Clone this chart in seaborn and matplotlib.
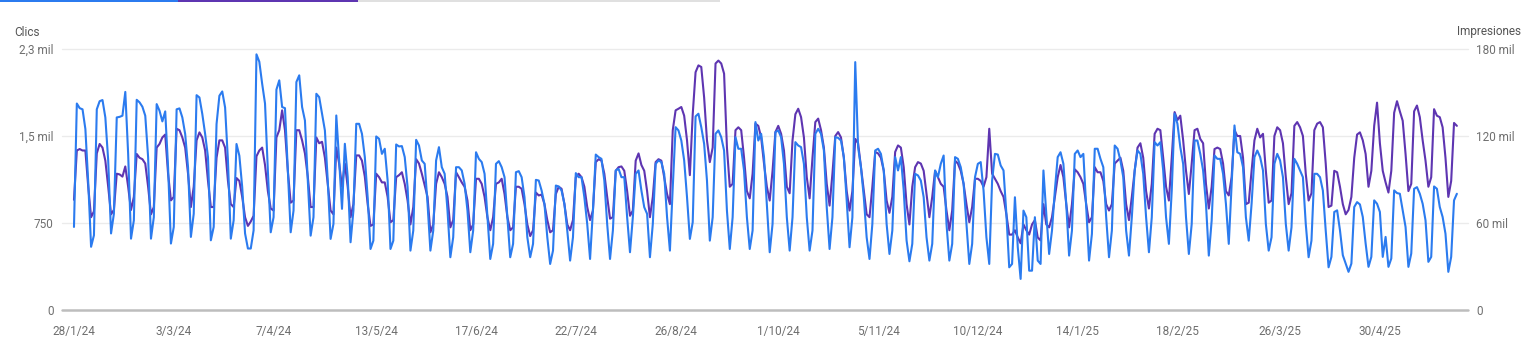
import pandas as pd
import matplotlib
matplotlib.use("Agg")
import matplotlib.pyplot as plt
import matplotlib.patches as mpatches
import seaborn as sns

# Clics diarios, una fila por semana (domingo a sábado) desde el 28/1/24
clics_semanas = [
    [716, 1780, 1740, 1730, 1560, 1100, 545],
    [644, 1730, 1800, 1810, 1660, 1290, 660],
    [830, 1660, 1665, 1675, 1880, 1345, 615],
    [773, 1812, 1790, 1752, 1675, 1317, 615],
    [800, 1775, 1718, 1626, 1712, 1231, 573],
    [716, 1730, 1738, 1660, 1517, 1231, 630],
    [830, 1852, 1832, 1690, 1517, 1317, 601],
    [716, 1603, 1847, 1884, 1746, 1288, 615],
    [773, 1431, 1330, 1060, 660, 530, 530],
    [687, 2204, 2140, 1950, 1780, 1200, 670],
    [800, 1900, 1980, 1750, 1740, 1200, 670],
    [857, 1965, 2023, 1750, 1634, 1116, 641],
    [800, 1864, 1835, 1692, 1548, 1116, 613],
    [742, 1677, 1289, 872, 1433, 1145, 584],
    [857, 1605, 1605, 1519, 1318, 972, 526],
    [598, 1496, 1476, 1346, 1390, 1116, 526],
    [598, 1427, 1410, 1413, 1318, 1059, 512],
    [685, 1467, 1418, 1289, 1260, 915, 512],
    [685, 1289, 1404, 1231, 1174, 857, 455],
    [627, 1231, 1231, 1203, 1088, 857, 498],
    [685, 1360, 1303, 1275, 1174, 800, 440],
    [570, 1260, 1283, 1231, 1145, 800, 455],
    [570, 1188, 1197, 1145, 972, 627, 455],
    [570, 1122, 1116, 1030, 915, 627, 397],
    [512, 1073, 1065, 1030, 915, 685, 426],
    [627, 1180, 1145, 1145, 972, 742, 440],
    [857, 1340, 1318, 1303, 1116, 742, 440],
    [685, 1203, 1217, 1145, 1145, 800, 498],
    [800, 1174, 1203, 1030, 886, 829, 455],
    [742, 1260, 1289, 1275, 1174, 800, 512],
    [1059, 1576, 1548, 1461, 1290, 972, 613],
    [757, 1669, 1692, 1576, 1433, 1116, 598],
    [800, 1519, 1548, 1490, 1375, 857, 526],
    [800, 1490, 1390, 1390, 1203, 800, 526],
    [685, 1620, 1461, 1519, 1318, 915, 498],
    [742, 1533, 1548, 1490, 1260, 800, 512],
    [800, 1447, 1418, 1404, 1260, 800, 512],
    [685, 1519, 1562, 1519, 1375, 886, 526],
    [800, 1490, 1484, 1461, 1318, 944, 541],
    [800, 2137, 1404, 1231, 972, 627, 440],
    [742, 1375, 1390, 1346, 1203, 742, 483],
    [685, 1318, 1203, 1318, 1030, 600, 420],
    [570, 1174, 1160, 1116, 972, 627, 426],
    [570, 1203, 1145, 1260, 1332, 742, 426],
    [570, 1318, 1303, 1231, 1088, 742, 397],
    [570, 1145, 1260, 1275, 1030, 627, 397],
    [1116, 1346, 1340, 1246, 1203, 829, 368],
    [397, 972, 541, 268, 857, 800, 339],
    [339, 800, 426, 397, 1203, 829, 483],
    [685, 1030, 1318, 1360, 1260, 915, 469],
    [685, 1346, 1375, 1318, 1346, 886, 426],
    [656, 1390, 1390, 1303, 1231, 800, 455],
    [685, 1418, 1390, 1289, 1145, 685, 469],
    [800, 1203, 1375, 1346, 1174, 800, 498],
    [800, 1447, 1418, 1447, 1203, 800, 570],
    [1030, 1692, 1605, 1404, 1260, 800, 483],
    [742, 1461, 1461, 1346, 1203, 915, 469],
    [771, 1332, 1303, 1303, 1174, 915, 570],
    [1088, 1591, 1360, 1346, 1231, 800, 598],
    [915, 1318, 1375, 1318, 1203, 742, 512],
    [627, 1260, 1346, 1289, 1145, 742, 512],
    [713, 1303, 1260, 1203, 1145, 742, 455],
    [598, 1174, 1174, 1145, 1030, 685, 368],
    [458, 845, 859, 687, 472, 400, 329],
    [400, 888, 930, 910, 802, 573, 372],
    [458, 945, 916, 845, 458, 630, 372],
    [444, 1031, 1008, 1002, 859, 716, 372],
    [487, 1045, 1059, 1002, 916, 773, 415],
    [458, 1065, 1045, 888, 802, 658, 329],
    [458, 945, 1002],
]

# Impresiones diarias en miles, mismas semanas
impresiones_semanas = [
    [76, 110, 111, 110, 110, 85, 64],
    [68, 108, 114.5, 112, 103, 85, 66],
    [69, 94, 93.5, 92, 99, 85, 69],
    [78, 107.6, 105, 104, 101, 85, 66],
    [71, 112, 114.5, 119, 121, 94, 75.6],
    [78, 125, 124, 119, 112, 94, 71],
    [85, 117, 122.5, 119, 110, 89, 71],
    [71, 105, 117, 117, 112, 89, 73],
    [71, 91, 89, 78, 64, 58, 61],
    [65, 106, 110, 112, 100, 82, 70],
    [68.6, 119, 124, 137.7, 124, 96, 74],
    [75.5, 124, 124, 117, 108, 92, 71],
    [71, 119, 115, 116, 105, 87, 68.6],
    [66, 112, 101, 85, 101, 85, 64],
    [73, 106.6, 106.6, 103, 92, 73, 58],
    [59, 94, 91.6, 88, 88, 78, 60.5],
    [62, 91.6, 93, 95, 87, 75.5, 59],
    [71, 104, 101, 94, 86, 78, 53.6],
    [59, 87, 95, 91.6, 87, 78, 57],
    [62, 95, 91.6, 88, 85, 75.5, 55],
    [59, 90.5, 90.5, 87, 78, 64, 55],
    [64, 87, 88, 90.5, 80, 64, 55],
    [57, 85, 85, 83.6, 73, 59, 51],
    [55, 81, 79, 79.6, 73, 62, 53.6],
    [55, 80, 85, 83.6, 73, 59, 55],
    [62, 91.6, 94, 91.6, 85, 71, 62],
    [68.6, 102, 104, 103, 94, 78, 63],
    [64, 96, 98.5, 99, 96, 82, 65],
    [68.6, 103, 108, 100, 96, 82, 64],
    [78, 102, 104, 103, 91.6, 80, 73],
    [124, 137.7, 138.8, 140, 134, 117, 93],
    [135, 164, 168.7, 167.6, 146.6, 117, 102],
    [112, 170, 172, 170, 163, 112, 85],
    [87, 124, 126, 124, 105, 82, 77],
    [94, 128.5, 127, 119, 101, 85, 75.5],
    [96, 122.7, 127, 121.5, 110, 85, 80.5],
    [117, 135, 138.8, 133, 119, 91.6, 77],
    [105, 129.6, 132, 124, 112, 87, 72],
    [94, 120, 122.7, 119, 105, 82, 68.6],
    [82, 118, 115, 98.5, 82, 66, 64],
    [85, 109, 108, 105, 96, 75.5, 67],
    [78, 109, 113.5, 112, 98.5, 73, 59],
    [85, 98.5, 102, 101, 96, 80, 64],
    [78, 96, 91.6, 87, 85, 68.6, 55],
    [68.6, 103, 101, 96, 87, 73, 60.5],
    [71, 90.5, 90.5, 89, 85, 91.6, 125],
    [94, 90.5, 87, 82, 78, 66, 52],
    [52, 55, 50, 46, 59, 55, 52],
    [59, 62, 50, 48, 73, 59, 57],
    [64, 78, 91.6, 100, 91.6, 73, 57],
    [73, 97, 95, 91.6, 87, 73, 60.5],
    [64, 98.5, 95, 95, 89, 73, 68.6],
    [73, 101, 103, 105, 96, 73, 62],
    [78, 96, 112, 115, 105, 82, 70],
    [87, 121.5, 125, 124, 105, 85, 75.5],
    [105, 136.5, 131, 134, 117, 96, 80],
    [101, 124, 125, 118, 115, 87, 70],
    [85, 111, 112, 111, 101, 82, 79],
    [91.6, 124, 120, 120, 105, 73, 74],
    [96, 117, 125, 119, 121.5, 96, 74],
    [75.5, 120, 126, 124, 115, 91.6, 73],
    [80.5, 127, 129.6, 126, 120, 94, 75.5],
    [80.5, 124, 128.5, 129.6, 126, 101, 71],
    [72, 96, 95, 85, 73, 66, 69],
    [78, 105, 121, 122.5, 117, 107.6, 85],
    [96, 127, 143, 115, 96, 88, 81],
    [96, 136, 144, 137, 130.5, 107.6, 82],
    [87, 137, 141, 133, 117, 103, 85],
    [91.6, 138.5, 134, 133, 126, 105, 78],
    [89, 129, 127],
]

fechas_ticks = ["2024-01-28", "2024-03-03", "2024-04-07", "2024-05-13", "2024-06-17",
                "2024-07-22", "2024-08-26", "2024-10-01", "2024-11-05", "2024-12-10",
                "2025-01-14", "2025-02-18", "2025-03-26", "2025-04-30"]
textos_ticks = ["28/1/24", "3/3/24", "7/4/24", "13/5/24", "17/6/24", "22/7/24", "26/8/24",
                "1/10/24", "5/11/24", "10/12/24", "14/1/25", "18/2/25", "26/3/25", "30/4/25"]

clics_ticks = [0, 750, 1500, 2250]
clics_textos = ["0", "750", "1,5 mil", "2,3 mil"]
impr_ticks = [0, 60000, 120000, 180000]
impr_textos = ["0", "60 mil", "120 mil", "180 mil"]

clics = [v for semana in clics_semanas for v in semana]
impresiones = [v * 1000 for semana in impresiones_semanas for v in semana]
inicio = pd.Timestamp("2024-01-28")
df = pd.DataFrame({
    "fecha": pd.date_range(inicio, periods=len(clics), freq="D"),
    "clics": clics,
    "impresiones": impresiones,
})

sns.set_theme(style="white")
plt.rcParams["font.family"] = ["Roboto", "DejaVu Sans"]

gris = "#6f6f6f"
azul = "#2b7bef"
morado = "#5e35b1"
W, H = 1528, 362
fig = plt.figure(figsize=(W / 100, H / 100), dpi=100)
ax = fig.add_axes([62 / W, 52 / H, 1406 / W, 261 / H])
ax2 = ax.twinx()

# rejilla en el eje de abajo
for v in impr_ticks[1:]:
    ax2.axhline(v, color="#ebebeb", lw=1, zorder=0, clip_on=False)
ax2.axhline(0, color="#bdbdbd", lw=1.8, zorder=0.5, clip_on=False)

sns.lineplot(data=df, x="fecha", y="impresiones", ax=ax2, color=morado, linewidth=1.5)
sns.lineplot(data=df, x="fecha", y="clics", ax=ax, color=azul, linewidth=1.5)
ax.set_zorder(ax2.get_zorder() + 1)
ax.patch.set_visible(False)

ax.set_ylim(0, 2250)
ax2.set_ylim(0, 180000)
ax.set_xlim(inicio - pd.Timedelta(days=4.2), inicio + pd.Timedelta(days=488.9))

ax.set_yticks(clics_ticks, clics_textos)
ax2.set_yticks(impr_ticks, impr_textos)
ax.set_xticks(pd.to_datetime(fechas_ticks), textos_ticks)

for a in (ax, ax2):
    a.set_xlabel("")
    a.set_ylabel("")
    for s in a.spines.values():
        s.set_visible(False)
    a.tick_params(length=0, labelsize=8.5, labelcolor=gris)
ax.tick_params(axis="y", pad=6)
ax2.tick_params(axis="y", pad=6)
ax.tick_params(axis="x", pad=11)

fig.text(14 / W, 1 - 32 / H, "Clics", fontsize=8.5, color="#555555", va="center", ha="left")
fig.text(1521 / W, 1 - 32 / H, "Impresiones", fontsize=8.5, color="#555555", va="center", ha="right")

# pestañas de color arriba
for x0, x1, c in [(0, 178, azul), (178, 358, morado), (358, 720, "#e0e0e0")]:
    fig.add_artist(mpatches.Rectangle((x0 / W, 1 - 2 / H), (x1 - x0) / W, 2 / H,
                                      transform=fig.transFigure, color=c, lw=0))

fig.savefig("out.png", dpi=100, facecolor="white")
